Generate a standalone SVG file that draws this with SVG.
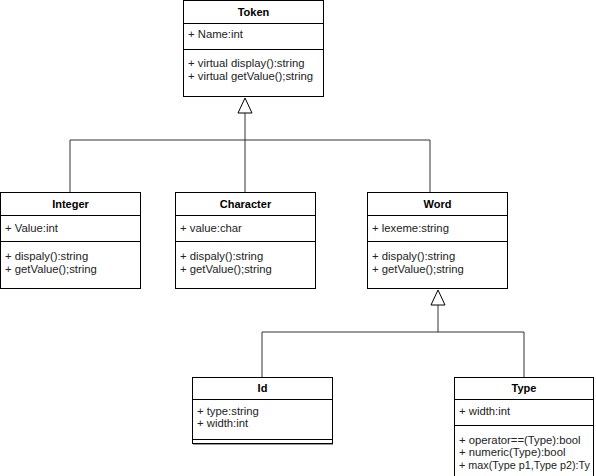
<svg xmlns="http://www.w3.org/2000/svg" width="596" height="476" viewBox="0 0 596 476">
<style>
.box{fill:#fff;stroke:#000;stroke-width:1}
.ln{stroke:#000;stroke-width:1}
.t{font-family:"Liberation Sans",Arial,sans-serif;font-size:11.3px;fill:#222}
.h{font-family:"Liberation Sans",Arial,sans-serif;font-size:11px;font-weight:bold;fill:#000;text-anchor:middle}
.c{fill:none;stroke:#333;stroke-width:1}
.tri{fill:#fff;stroke:#000;stroke-width:1}
</style>
<rect width="596" height="476" fill="#fff"/>
<g id="connectors">
<polyline class="c" points="245,113 245,192"/>
<polyline class="c" points="70,192 70,140 430,140 430,192"/>
<polygon class="tri" points="245,98 238,113 252,113"/>
<polyline class="c" points="262,377 262,332 524,332 524,377"/>
<polyline class="c" points="438,305 438,332"/>
<polygon class="tri" points="438,290 431,305 445,305"/>
</g>
<g id="Token">
<rect class="box" x="183.5" y="0.5" width="140" height="96"/>
<line class="ln" x1="183.5" y1="23.5" x2="323.5" y2="23.5"/>
<line class="ln" x1="183.5" y1="49.5" x2="323.5" y2="49.5"/>
<text class="h" x="253.5" y="16">Token</text>
<text class="t" x="188" y="38">+ Name:int</text>
<text class="t" x="188" y="67">+ virtual display():string</text>
<text class="t" x="188" y="80">+ virtual getValue();string</text>
</g>
<g id="Integer">
<rect class="box" x="0.5" y="192.5" width="140" height="96"/>
<line class="ln" x1="0.5" y1="215.5" x2="140.5" y2="215.5"/>
<line class="ln" x1="0.5" y1="241.5" x2="140.5" y2="241.5"/>
<text class="h" x="70.5" y="208">Integer</text>
<text class="t" x="5" y="232">+ Value:int</text>
<text class="t" x="5" y="260">+ dispaly():string</text>
<text class="t" x="5" y="273">+ getValue();string</text>
</g>
<g id="Character">
<rect class="box" x="175.5" y="192.5" width="140" height="96"/>
<line class="ln" x1="175.5" y1="215.5" x2="315.5" y2="215.5"/>
<line class="ln" x1="175.5" y1="241.5" x2="315.5" y2="241.5"/>
<text class="h" x="245.5" y="208">Character</text>
<text class="t" x="180" y="232">+ value:char</text>
<text class="t" x="180" y="260">+ dispaly():string</text>
<text class="t" x="180" y="273">+ getValue();string</text>
</g>
<g id="Word">
<rect class="box" x="367.5" y="192.5" width="140" height="96"/>
<line class="ln" x1="367.5" y1="215.5" x2="507.5" y2="215.5"/>
<line class="ln" x1="367.5" y1="241.5" x2="507.5" y2="241.5"/>
<text class="h" x="437.5" y="208">Word</text>
<text class="t" x="372" y="232">+ lexeme:string</text>
<text class="t" x="372" y="260">+ dispaly():string</text>
<text class="t" x="372" y="273">+ getValue();string</text>
</g>
<g id="Id">
<rect class="box" x="192.5" y="377.5" width="140" height="66"/>
<line class="ln" x1="192.5" y1="399.5" x2="332.5" y2="399.5"/>
<line class="ln" x1="192.5" y1="439.5" x2="332.5" y2="439.5"/>
<line x1="193" y1="444.5" x2="333" y2="444.5" stroke="#999" stroke-width="1"/>
<text class="h" x="262.5" y="392">Id</text>
<text class="t" x="197" y="415">+ type:string</text>
<text class="t" x="197" y="427">+ width:int</text>
</g>
<g id="Type">
<rect class="box" x="454.5" y="377.5" width="139" height="110"/>
<line class="ln" x1="454.5" y1="399.5" x2="593.5" y2="399.5"/>
<line class="ln" x1="454.5" y1="425.5" x2="593.5" y2="425.5"/>
<text class="h" x="524" y="392">Type</text>
<text class="t" x="459" y="415">+ width:int</text>
<text class="t" x="459" y="444">+ operator==(Type):bool</text>
<text class="t" x="459" y="456">+ numeric(Type):bool</text>
<text class="t" x="459" y="469" textLength="131" lengthAdjust="spacingAndGlyphs">+ max(Type p1,Type p2):Ty</text>
</g>
</svg>
